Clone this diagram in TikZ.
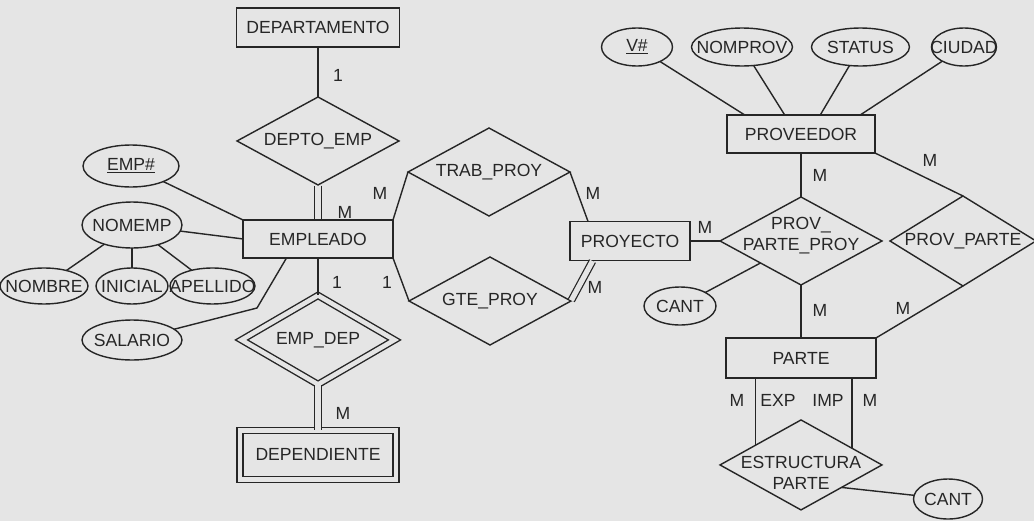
\documentclass[tikz,border=0pt]{standalone}
\usepackage{fontspec}
\setmainfont{Liberation Sans}
\usepackage{xcolor}
\usetikzlibrary{shapes.geometric, positioning, calc}
\colorlet{paper}{black!10}
\colorlet{ink}{black!85}
\tikzset{
  entity/.style={rectangle, draw=ink, line width=0.8pt, minimum width=#1,
                 minimum height=0.78cm, inner sep=0pt, outer sep=0pt},
  entity/.default=3cm,
  weakentity/.style={entity=#1, double=paper, double distance=2.6pt,
                     minimum height=0.98cm},
  weakentity/.default=3.12cm,
  rel/.style={diamond, draw=ink, line width=0.8pt, minimum width=#1,
              minimum height=1.76cm, inner sep=-1cm, outer sep=0pt, align=center},
  rel/.default=3.24cm,
  weakrel/.style={rel=#1, double=paper, double distance=2.6pt,
                  minimum height=1.78cm},
  weakrel/.default=3.06cm,
  attr/.style={ellipse, draw=ink, line width=0.8pt, minimum width=#1,
               minimum height=0.76cm, inner sep=-1cm, outer sep=0pt},
  attr/.default=2cm,
  link/.style={draw=ink, line width=0.8pt},
  dlink/.style={draw=ink, line width=0.7pt, double=paper, double distance=3pt,
                shorten <=0.4pt, shorten >=0.4pt},
  card/.style={text=ink, inner sep=1pt},
}
% 两行标签，可上下微移
\newcommand{\twoline}[3]{\raisebox{#1}[\height][\depth]{%
  \begin{tabular}{@{}c@{}}#2\\#3\end{tabular}}}

\begin{document}
\begin{tikzpicture}[x=0.02cm, y=-0.02cm, text=ink]

\fill[paper] (0,0) rectangle (1034,521);
\useasboundingbox (0,0) rectangle (1034,521);

% ── 左列：部门 / 雇员 / 家属 ───────────────────────────────────────────────
\node[entity=3.26cm] (departamento) at (318,27.5) {DEPARTAMENTO};
\node[rel, below=1.0cm of departamento] (deptoemp) {DEPTO\_EMP};
\node[entity, minimum height=0.76cm, below=0.7cm of deptoemp] (empleado)
  {EMPLEADO};
\node[weakrel, below=0.75cm of empleado] (empdep) {EMP\_DEP};
\node[weakentity, below=0.92cm of empdep] (dependiente) {DEPENDIENTE};

% 雇员属性
\node[attr=1.92cm, minimum height=0.84cm] (empnum) at (131,166)
  {\underline{EMP\#}};
\node[attr, minimum height=0.92cm] (nomemp) at (132,225) {NOMEMP};
\node[attr=1.44cm, minimum height=0.72cm, below=0.4cm of nomemp] (inicial)
  {INICIAL};
\node[attr=1.76cm, minimum height=0.72cm, left=0.16cm of inicial] (nombre)
  {NOMBRE};
\node[attr=1.70cm, minimum height=0.72cm, right=0.04cm of inicial] (apellido)
  {APELLIDO};
\node[attr, minimum height=0.8cm] (salario) at (132,340) {SALARIO};

% ── 中列：项目联系 ─────────────────────────────────────────────────────────
\node[rel] (trabproy) at (489,172) {TRAB\_PROY};
\node[rel] (gteproy) at (490,301) {GTE\_PROY};

% ── 右列：供应商 / 零件 ────────────────────────────────────────────────────
\node[entity=2.96cm, minimum height=0.76cm] (proveedor) at (801,134)
  {PROVEEDOR};
\node[rel, below=0.88cm of proveedor] (ppp)
  {\twoline{0.1cm}{PROV\_}{PARTE\_PROY}};
\node[entity=2.4cm, left=0.6cm of ppp] (proyecto) {PROYECTO};
\node[rel=2.92cm, minimum height=1.8cm, right=0.16cm of ppp] (provparte)
  {PROV\_PARTE};
\node[entity, minimum height=0.8cm, below=1.06cm of ppp] (parte) {PARTE};
\node[rel, minimum height=1.8cm, below=0.84cm of parte] (estr)
  {\twoline{-0.2cm}{ESTRUCTURA}{PARTE}};

% 供应商属性
\node[attr=1.42cm] (vnum) at (637,47) {\underline{V\#}};
\node[attr=2.02cm, right=0.38cm of vnum] (nomprov) {NOMPROV};
\node[attr=1.96cm, right=0.38cm of nomprov] (status) {STATUS};
\node[attr=1.3cm, right=0.44cm of status] (ciudad) {CIUDAD};
\node[attr=1.44cm] (cantppp) at (680,306) {CANT};
\node[attr=1.38cm, minimum height=0.8cm] (cantestr) at (948,499) {CANT};

% ── 连线 ──────────────────────────────────────────────────────────────────
\draw[link] (departamento) -- (deptoemp);
\draw[dlink] (deptoemp) -- (empleado);
\draw[link] (empnum) -- (empleado.north west);
\draw[link] (nomemp) -- (empleado.west);
\draw[link] (nomemp) -- (nombre);
\draw[link] (nomemp) -- (inicial);
\draw[link] (nomemp) -- (apellido);
\coordinate (salbend) at (257,308);
\draw[link] (salario) -- (salbend)
  -- ($(empleado.south west)!0.29!(empleado.south east)$);
\draw[link] (empleado) -- (empdep);
\draw[dlink] (empdep) -- (dependiente);

\draw[link] (trabproy.west) -- (empleado.north east);
\draw[link] (empleado.south east) -- (gteproy.west);
\draw[link] (trabproy.east) -- ($(proyecto.north west)!0.15!(proyecto.north east)$);
\draw[dlink] (gteproy.east) -- ($(proyecto.south west)!0.19!(proyecto.south east)$);
\draw[link] (proyecto) -- (ppp);

\draw[link] (vnum) -- ($(proveedor.north west)!0.12!(proveedor.north east)$);
\draw[link] (nomprov) -- ($(proveedor.north west)!0.39!(proveedor.north east)$);
\draw[link] (status) -- ($(proveedor.north west)!0.63!(proveedor.north east)$);
\draw[link] (ciudad) -- ($(proveedor.north west)!0.9!(proveedor.north east)$);
\draw[link] (proveedor) -- (ppp);
\draw[link] (proveedor.south east) -- (provparte.north);
\draw[link] (cantppp) -- ($(ppp.west)!0.5!(ppp.south)$);
\draw[link] (ppp) -- (parte);
\draw[link] (provparte.south) -- (parte.north east);

\coordinate (expend) at ($(estr.west)!0.44!(estr.north)$);
\coordinate (impend) at ($(estr.north)!0.63!(estr.east)$);
\draw[link] (parte.south -| expend) -- (expend);
\draw[link] (parte.south -| impend) -- (impend);
\draw[link] ($(estr.east)!0.5!(estr.south)$) -- (cantestr);

% ── 基数标注 ──────────────────────────────────────────────────────────────
\node[card] (c1) at (338,75) {1};
\node[card] (c2) at (345,212) {M};
\node[card] (c3) at (380,193) {M};
\node[card] (c4) at (337,282) {1};
\node[card] (c5) at (387,282) {1};
\node[card] (c6) at (343,413) {M};
\node[card] (c7) at (593,193) {M};
\node[card] (c8) at (595,287) {M};
\node[card] (c9) at (705,227) {M};
\node[card] (c10) at (820,175) {M};
\node[card] (c11) at (930,160) {M};
\node[card] (c12) at (820,310) {M};
\node[card] (c13) at (903,308) {M};
\node[card] (c14) at (737,400) {M};
\node[card] (c15) at (778,400) {EXP};
\node[card] (c16) at (828,400) {IMP};
\node[card] (c17) at (870,400) {M};

\end{tikzpicture}
\end{document}
